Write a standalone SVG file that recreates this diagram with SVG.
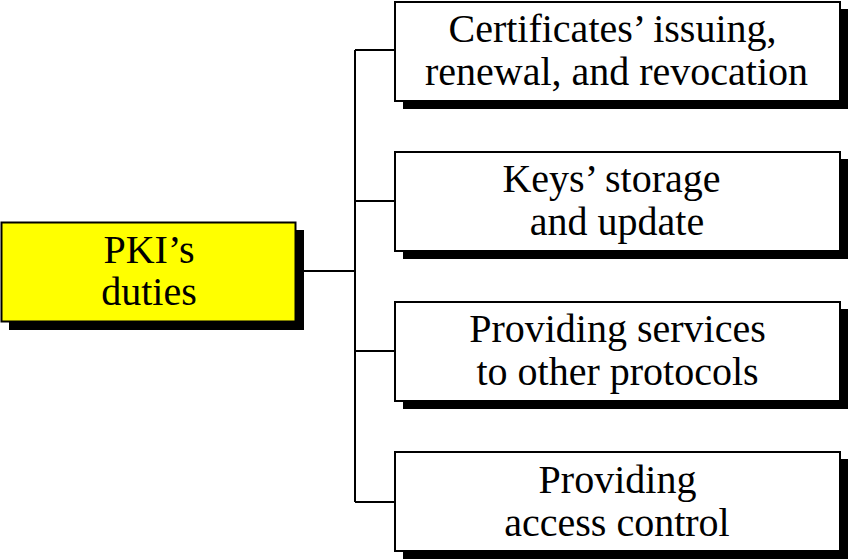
<svg xmlns="http://www.w3.org/2000/svg" width="848" height="559" viewBox="0 0 848 559">
<style>
.box{fill:#fff;stroke:#000;stroke-width:2}
.shadow{fill:#000}
.t{font-family:"Liberation Serif","Times New Roman",serif;font-size:40px;fill:#000;text-anchor:middle}
.c{fill:none;stroke:#000;stroke-width:2}
</style>
<rect width="848" height="559" fill="#fff"/>
<g id="connectors">
<path class="c" d="M296 271H355M355 50V502M355 50H395M355 201H395M355 351H395M355 502H395"/>
</g>
<g id="pki">
<rect class="shadow" x="9" y="230" width="295" height="100"/>
<rect class="box" x="1.5" y="222.5" width="294" height="99" style="fill:#ff0"/>
<text class="t" x="149" y="263">PKI’s</text>
<text class="t" x="149" y="305">duties</text>
</g>
<g id="n1">
<rect class="shadow" x="403" y="9" width="445" height="100"/>
<rect class="box" x="395" y="2" width="445" height="99"/>
<text class="t" x="612.5" y="42">Certificates’ issuing,</text>
<text class="t" x="616.5" y="85">renewal, and revocation</text>
</g>
<g id="n2">
<rect class="shadow" x="403" y="159" width="445" height="100"/>
<rect class="box" x="395" y="152" width="445" height="99"/>
<text class="t" x="611.5" y="192">Keys’ storage</text>
<text class="t" x="617" y="235">and update</text>
</g>
<g id="n3">
<rect class="shadow" x="403" y="309" width="445" height="100"/>
<rect class="box" x="395" y="302" width="445" height="99"/>
<text class="t" x="617.5" y="342">Providing services</text>
<text class="t" x="617.5" y="385">to other protocols</text>
</g>
<g id="n4">
<rect class="shadow" x="403" y="459" width="445" height="100"/>
<rect class="box" x="395" y="452" width="445" height="99"/>
<text class="t" x="617.5" y="493">Providing</text>
<text class="t" x="617" y="536">access control</text>
</g>
</svg>
